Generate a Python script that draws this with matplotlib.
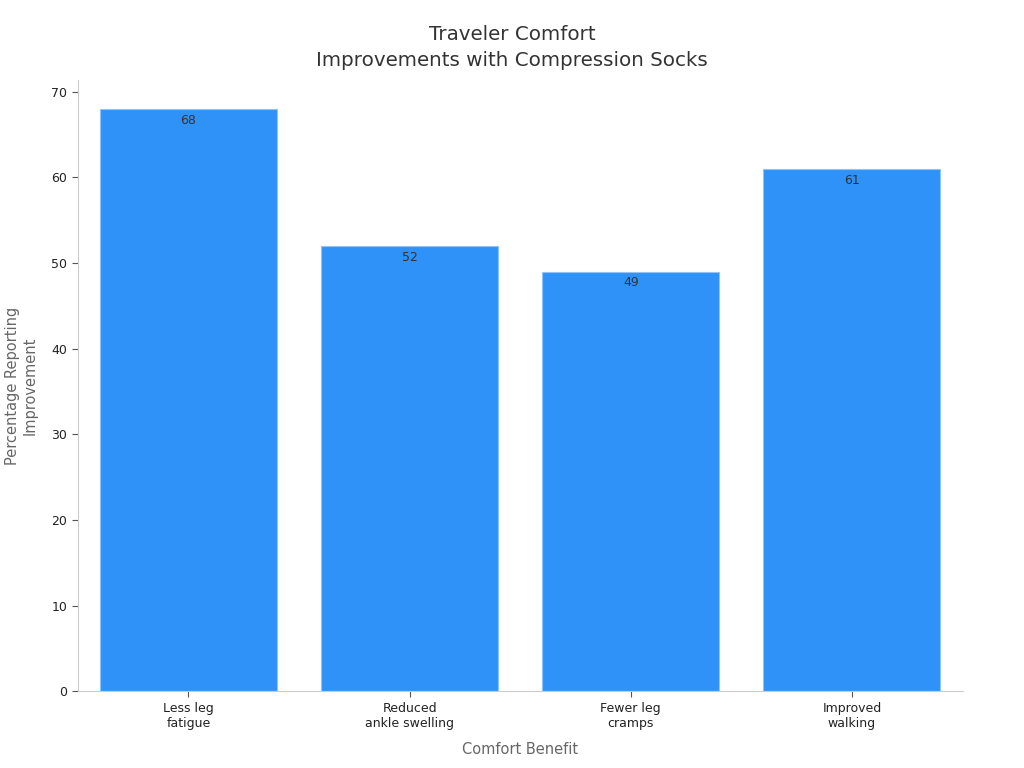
import numpy as np
import matplotlib.pyplot as plt

# Chart data
categories = ['Less leg\nfatigue', 'Reduced\nankle swelling', 'Fewer leg\ncramps', 'Improved\nwalking']
values = [68, 52, 49, 61]

fig = plt.figure(figsize=(10.24, 7.68), dpi=100)
ax = fig.add_axes([0.076, 0.100, 0.864, 0.796])

x = np.arange(len(categories))
bars = ax.bar(x, values, width=0.8, color='#2f92f8', edgecolor='#8cc4fb', linewidth=0.8)

for rect, v in zip(bars, values):
    ax.text(rect.get_x() + rect.get_width() / 2, v - 0.55, str(v),
            ha='center', va='top', fontsize=9, color='#333333')

ax.set_xlim(-0.5, 3.5)
ax.set_ylim(0, 71.4)
ax.set_yticks(range(0, 71, 10))
ax.set_xticks(x)
ax.set_xticklabels(categories, fontsize=9, color='#222222')
ax.tick_params(axis='y', labelsize=9, colors='#222222')
ax.tick_params(axis='both', color='#555555', length=4)

for s in ['top', 'right']:
    ax.spines[s].set_visible(False)
for s in ['left', 'bottom']:
    ax.spines[s].set_color('#cccccc')

ax.set_xlabel('Comfort Benefit', fontsize=10.5, color='#666666', labelpad=9)
ax.set_ylabel('Percentage Reporting\nImprovement', fontsize=10.5, color='#666666', labelpad=10)
# title centred on the figure rather than the axes
ax.set_title('Traveler Comfort\nImprovements with Compression Socks', fontsize=14.3,
             color='#333333', pad=10, x=(0.5 - 0.076) / 0.864, linespacing=1.45)

fig.savefig('out.png', dpi=100)
